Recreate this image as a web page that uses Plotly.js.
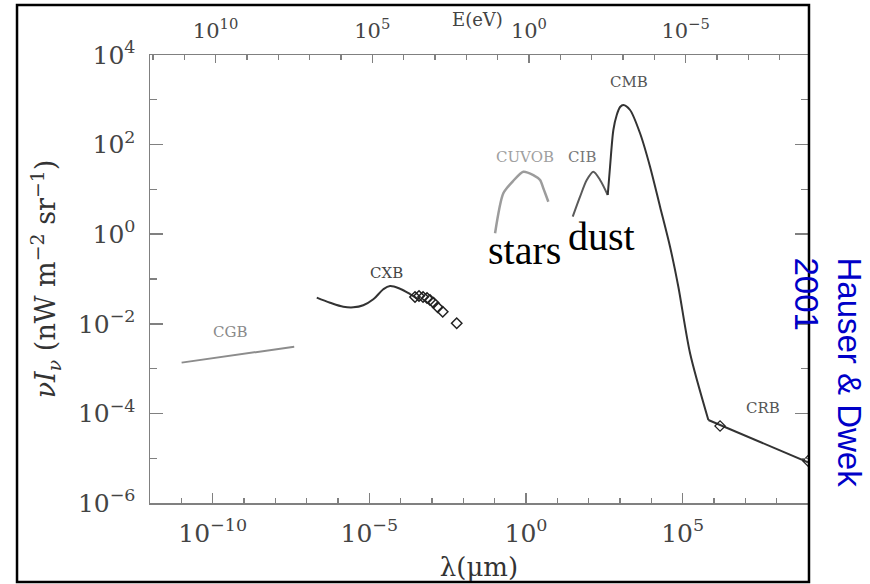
<!DOCTYPE html>
<html><head><meta charset="utf-8">
<script src="https://cdn.plot.ly/plotly-3.0.1.min.js"></script>
<style>html,body{margin:0;padding:0;background:#fff}#chart{width:870px;height:584px}</style>
</head><body><div id="chart"></div>
<script>
// ---- data (wavelength in micron, nu I_nu in nW m^-2 sr^-1) ----
const cgbLambda = [1.02e-11, 4.0e-8];
const cgbFlux   = [1.36e-3, 3.08e-3];

const cxbLambda = [2.1e-7, 5.6e-7, 1.48e-6, 3.08e-6, 6.4e-6, 1.34e-5, 2.79e-5, 4.57e-5, 9.5e-5, 1.99e-4, 3.66e-4];
const cxbFlux   = [0.0383, 0.0296, 0.0241, 0.0233, 0.0259, 0.0352, 0.0589, 0.0698, 0.0607, 0.0462, 0.0352];

const cxbPtsLambda = [2.87e-4, 3.85e-4, 5.18e-4, 6.93e-4, 8.65e-4, 1.12e-3, 1.52e-3, 2.20e-3, 6.15e-3];
const cxbPtsFlux   = [0.0396, 0.0418, 0.0396, 0.0377, 0.0340, 0.0296, 0.0233, 0.0186, 0.0103];

const cuvobLambda = [0.103, 0.189, 0.394, 0.822, 1.71, 2.81, 3.57, 5.16];
const cuvobFlux   = [1.05, 8.18, 15.6, 24.8, 20.9, 16.2, 10.6, 5.31];

const cibLambda = [31.0, 53.1, 86.9, 141, 231, 406];
const cibFlux   = [2.46, 6.87, 16.2, 24.8, 16.2, 7.50];

const cmbLambda = [406, 481, 614, 787, 1005, 1280, 2094, 4365, 9100, 18970, 39540, 72780, 172200, 660700];
const cmbFlux   = [7.50, 32.1, 212, 458, 690, 766, 592, 179, 32.1, 4.11, 0.526, 0.0673, 2.20e-3, 7.13e-5];

const crbLambda = [660700, 1e9];
const crbFlux   = [7.13e-5, 8.13e-6];

const crbPtsLambda = [1.56e6, 1e9];
const crbPtsFlux   = [5.24e-5, 8.7e-6];

// ---- ticks ----
const xMajorExp = [-10, -5, 0, 5];
const xMinorExp = [-12,-11,-9,-8,-7,-6,-4,-3,-2,-1,1,2,3,4,6,7,8,9];
const yMajorExp = [-6, -4, -2, 0, 2, 4];
const yMinorExp = [-5, -3, -1, 1, 3];
const eMajorExp = [10, 5, 0, -5];
const eMinorExp = [12,11,9,8,7,6,4,3,2,1,-1,-2,-3,-4,-6,-7,-8];
const hcEvMicron = 1.24; // E(eV) = 1.24 / lambda(micron)

function lab(e){ return '10<sup>' + (e < 0 ? '\u2212' + (-e) : e) + '</sup>'; }
const p10 = e => Math.pow(10, e);

const serif = 'DejaVu Serif';
const axGrey = '#808080';
const labGrey = '#444';

const traces = [
  {x: cgbLambda, y: cgbFlux, mode: 'lines', line: {color: '#8c8c8c', width: 2}},
  {x: cxbLambda, y: cxbFlux, mode: 'lines', line: {color: '#333', width: 2, shape: 'spline', smoothing: 1}},
  {x: cxbPtsLambda, y: cxbPtsFlux, mode: 'markers', marker: {symbol: 'diamond-open', size: 8, color: '#222', line: {width: 1.5}}},
  {x: cuvobLambda, y: cuvobFlux, mode: 'lines', line: {color: '#9c9c9c', width: 2.5, shape: 'spline', smoothing: 0.7}},
  {x: cibLambda, y: cibFlux, mode: 'lines', line: {color: '#5a5a5a', width: 2, shape: 'spline', smoothing: 0.8}},
  {x: cmbLambda, y: cmbFlux, mode: 'lines', line: {color: '#333', width: 2, shape: 'spline', smoothing: 0.8}},
  {x: crbLambda, y: crbFlux, mode: 'lines', line: {color: '#333', width: 2}},
  {x: crbPtsLambda, y: crbPtsFlux, mode: 'markers', marker: {symbol: 'diamond-open', size: 8, color: '#222', line: {width: 1.2}}},
  {x: [], y: [], xaxis: 'x2', yaxis: 'y', mode: 'markers'}
];

function lbl(text, lx, ly, color, size, family){
  return {x: Math.log10(lx), y: Math.log10(ly), xref: 'x', yref: 'y', text: text, showarrow: false,
          xanchor: 'center', yanchor: 'middle',
          font: {family: family || serif, size: size || 15, color: color}};
}

const layout = {
  width: 870, height: 584,
  margin: {l: 150, r: 62, t: 55, b: 81},
  paper_bgcolor: '#fff', plot_bgcolor: '#fff',
  showlegend: false,
  xaxis: {
    type: 'log', range: [-12, 9], showgrid: false, zeroline: false,
    showline: true, linecolor: axGrey, linewidth: 1.5,
    tickmode: 'array', tickvals: xMajorExp.map(p10), ticktext: xMajorExp.map(lab),
    ticks: 'inside', ticklen: 10, tickwidth: 1.5, tickcolor: axGrey,
    minor: {tickmode: 'array', tickvals: xMinorExp.map(p10), ticks: 'inside', ticklen: 5, tickwidth: 1.2, tickcolor: axGrey},
    tickfont: {family: serif, size: 25, color: labGrey},
    ticklabelstandoff: 7,
    title: {text: '\u03bb(\u03bcm)', font: {family: serif, size: 26, color: '#333'}, standoff: 11}
  },
  xaxis2: {
    type: 'log', overlaying: 'x', side: 'top', anchor: 'y',
    range: [Math.log10(hcEvMicron / 1e-12), Math.log10(hcEvMicron / 1e9)],
    showgrid: false, zeroline: false, showline: true, linecolor: axGrey, linewidth: 1.5,
    tickmode: 'array', tickvals: eMajorExp.map(p10), ticktext: eMajorExp.map(lab),
    ticks: 'inside', ticklen: 8, tickwidth: 1.5, tickcolor: axGrey,
    minor: {tickmode: 'array', tickvals: eMinorExp.map(p10), ticks: 'inside', ticklen: 5, tickwidth: 1.2, tickcolor: axGrey},
    tickfont: {family: serif, size: 21, color: labGrey},
    ticklabelstandoff: 7
  },
  yaxis: {
    type: 'log', range: [-6, 4], showgrid: false, zeroline: false,
    showline: true, mirror: 'ticks', linecolor: axGrey, linewidth: 1.5,
    tickmode: 'array', tickvals: yMajorExp.map(p10), ticktext: yMajorExp.map(lab),
    ticks: 'inside', ticklen: 13, tickwidth: 1.5, tickcolor: axGrey,
    minor: {tickmode: 'array', tickvals: yMinorExp.map(p10), ticks: 'inside', ticklen: 7, tickwidth: 1.2, tickcolor: axGrey},
    tickfont: {family: serif, size: 25, color: labGrey},
    ticklabelstandoff: 8,
    title: {text: '<i>\u03bdI</i><sub><i>\u03bd</i></sub> (nW m<sup>\u22122</sup> sr<sup>\u22121</sup>)', font: {family: serif, size: 27, color: '#333'}, standoff: 14}
  },
  shapes: [
    {type: 'rect', xref: 'paper', yref: 'paper', x0: -0.2021, x1: 1.0015, y0: -0.1763, y1: 1.1116,
     line: {color: '#000', width: 2.5}, fillcolor: 'rgba(0,0,0,0)', layer: 'above'}
  ],
  annotations: [
    lbl('CGB', 3.57e-10, 6.56e-3, '#8a8a8a'),
    lbl('CXB', 3.59e-5, 0.134, '#444'),
    lbl('CUVOB', 0.93, 53.7, '#a0a0a0'),
    lbl('CIB', 60.1, 53.7, '#777'),
    lbl('CMB', 1986, 2535, '#555'),
    lbl('CRB', 3.76e7, 1.30e-4, '#555'),
    lbl('stars', 0.897, 0.433, '#000', 40, 'Liberation Serif'),
    lbl('dust', 258, 0.889, '#000', 40, 'Liberation Serif'),
    {xref: 'paper', yref: 'paper', x: 0.497, y: 1.080, xanchor: 'center', yanchor: 'middle',
     text: 'E(eV)', showarrow: false, font: {family: serif, size: 18, color: '#444'}},
    {xref: 'paper', yref: 'paper', x: 1.030, y: 0.292, xanchor: 'center', yanchor: 'middle',
     text: 'Hauser &amp; Dwek<br>2001', showarrow: false,
     textangle: 90, align: 'left', font: {family: 'Liberation Sans', size: 33, color: 'rgb(0,0,200)'}}
  ]
};

Plotly.newPlot('chart', traces, layout, {displayModeBar: false, staticPlot: true});
</script></body></html>
